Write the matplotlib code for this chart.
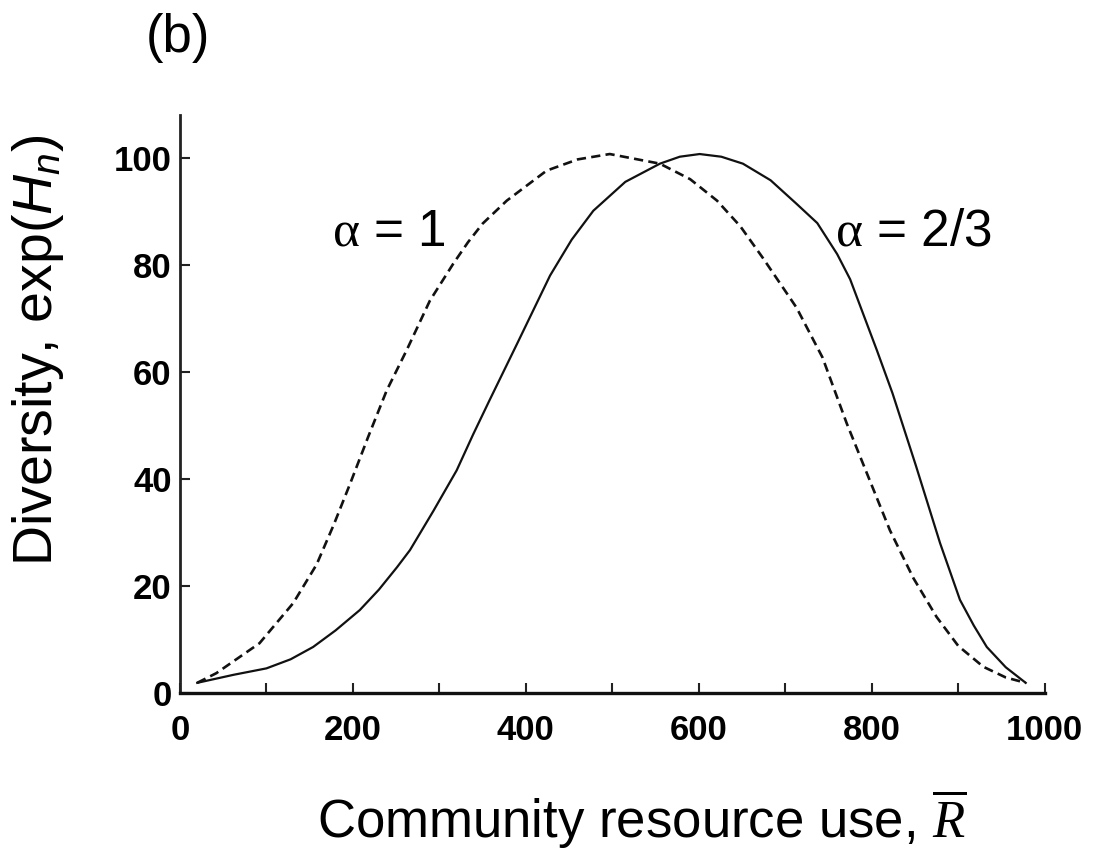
import matplotlib
matplotlib.use("Agg")
import matplotlib.pyplot as plt
from matplotlib.ticker import MultipleLocator

plt.rcParams['font.family'] = ['Liberation Sans', 'DejaVu Sans']
plt.rcParams['mathtext.fontset'] = 'custom'
plt.rcParams['mathtext.rm'] = 'Liberation Sans'
plt.rcParams['mathtext.it'] = 'Liberation Sans:italic'
plt.rcParams['mathtext.sf'] = 'Liberation Serif'
plt.rcParams['mathtext.cal'] = 'Liberation Serif:italic'

# alpha = 1 (dashed curve)
dash_x = [20, 42, 92, 131, 158, 178, 197, 218, 239, 262, 289, 316, 333, 350, 378,
          424, 460, 497, 555, 590, 621, 648, 674, 713, 743, 771, 821, 848, 875,
          900, 929, 955, 978]
dash_y = [1.9, 3.7, 9.3, 16.8, 24.0, 31.5, 39.2, 48.0, 56.5, 64.0, 73.3, 80.2,
          84.2, 87.7, 92.0, 97.6, 99.7, 100.7, 98.9, 96.0, 92.0, 87.2, 81.3,
          72.0, 62.7, 50.4, 30.4, 21.5, 14.2, 8.8, 4.9, 2.9, 1.9]

# alpha = 2/3 (solid curve)
sol_x = [20, 62, 100, 128, 154, 180, 208, 230, 251, 266, 293, 320, 339, 358, 390,
         428, 453, 478, 515, 555, 578, 601, 626, 651, 683, 713, 737, 760, 775,
         806, 824, 851, 879, 902, 918, 933, 955, 978]
sol_y = [1.9, 3.4, 4.6, 6.3, 8.6, 11.7, 15.5, 19.3, 23.5, 26.7, 34.0, 41.6, 48.3,
         54.7, 65.3, 78.0, 84.7, 90.1, 95.5, 98.9, 100.2, 100.7, 100.2, 98.9,
         95.8, 91.4, 87.8, 82.0, 77.3, 64.0, 56.0, 42.5, 28.0, 17.4, 12.6, 8.6,
         4.8, 1.9]

x_ticks = [0, 200, 400, 600, 800, 1000]
y_ticks = [0, 20, 40, 60, 80, 100]

fig = plt.figure(figsize=(10.96, 8.67), dpi=100)
ax = fig.add_axes([0.1642, 0.2007, 0.789, 0.6667])

ax.plot(dash_x, dash_y, color='#111111', lw=1.9, linestyle=(0, (3.5, 2)))
ax.plot(sol_x, sol_y, color='#111111', lw=1.6)

ax.set_xlim(0, 1000)
ax.set_ylim(0, 108)
ax.set_xticks(x_ticks)
ax.set_yticks(y_ticks)
ax.xaxis.set_minor_locator(MultipleLocator(100))

for s in ['top', 'right']:
    ax.spines[s].set_visible(False)
ax.spines['left'].set_linewidth(2.0)
ax.spines['bottom'].set_linewidth(2.4)
ax.spines['left'].set_color('#222222')
ax.spines['bottom'].set_color('#111111')

ax.tick_params(axis='both', which='both', direction='in', length=7, width=1.5, color='#222222')
ax.tick_params(axis='x', which='major', pad=15)
ax.tick_params(axis='y', which='major', pad=6)
for lab in ax.get_xticklabels() + ax.get_yticklabels():
    lab.set_fontsize(25)
    lab.set_fontweight('bold')

ax.text(176, 83.6, r"$\mathsf{α}$ = 1", fontsize=37, ha='left', va='baseline')
ax.text(757, 83.6, r"$\mathsf{α}$ = 2/3", fontsize=37, ha='left', va='baseline')

fig.text(178 / 1096, 1 - 38 / 867, "(b)", fontsize=38, ha='center', va='center')
fig.text(642 / 1096, 29 / 867, r"Community resource use, $\overline{\mathcal{R}}$",
         fontsize=38, ha='center', va='baseline')
fig.text(38 / 1096, 1 - 350 / 867, r"Diversity, exp($H_n$)", fontsize=40,
         rotation=90, ha='center', va='center')

fig.savefig("out.png", dpi=100)
